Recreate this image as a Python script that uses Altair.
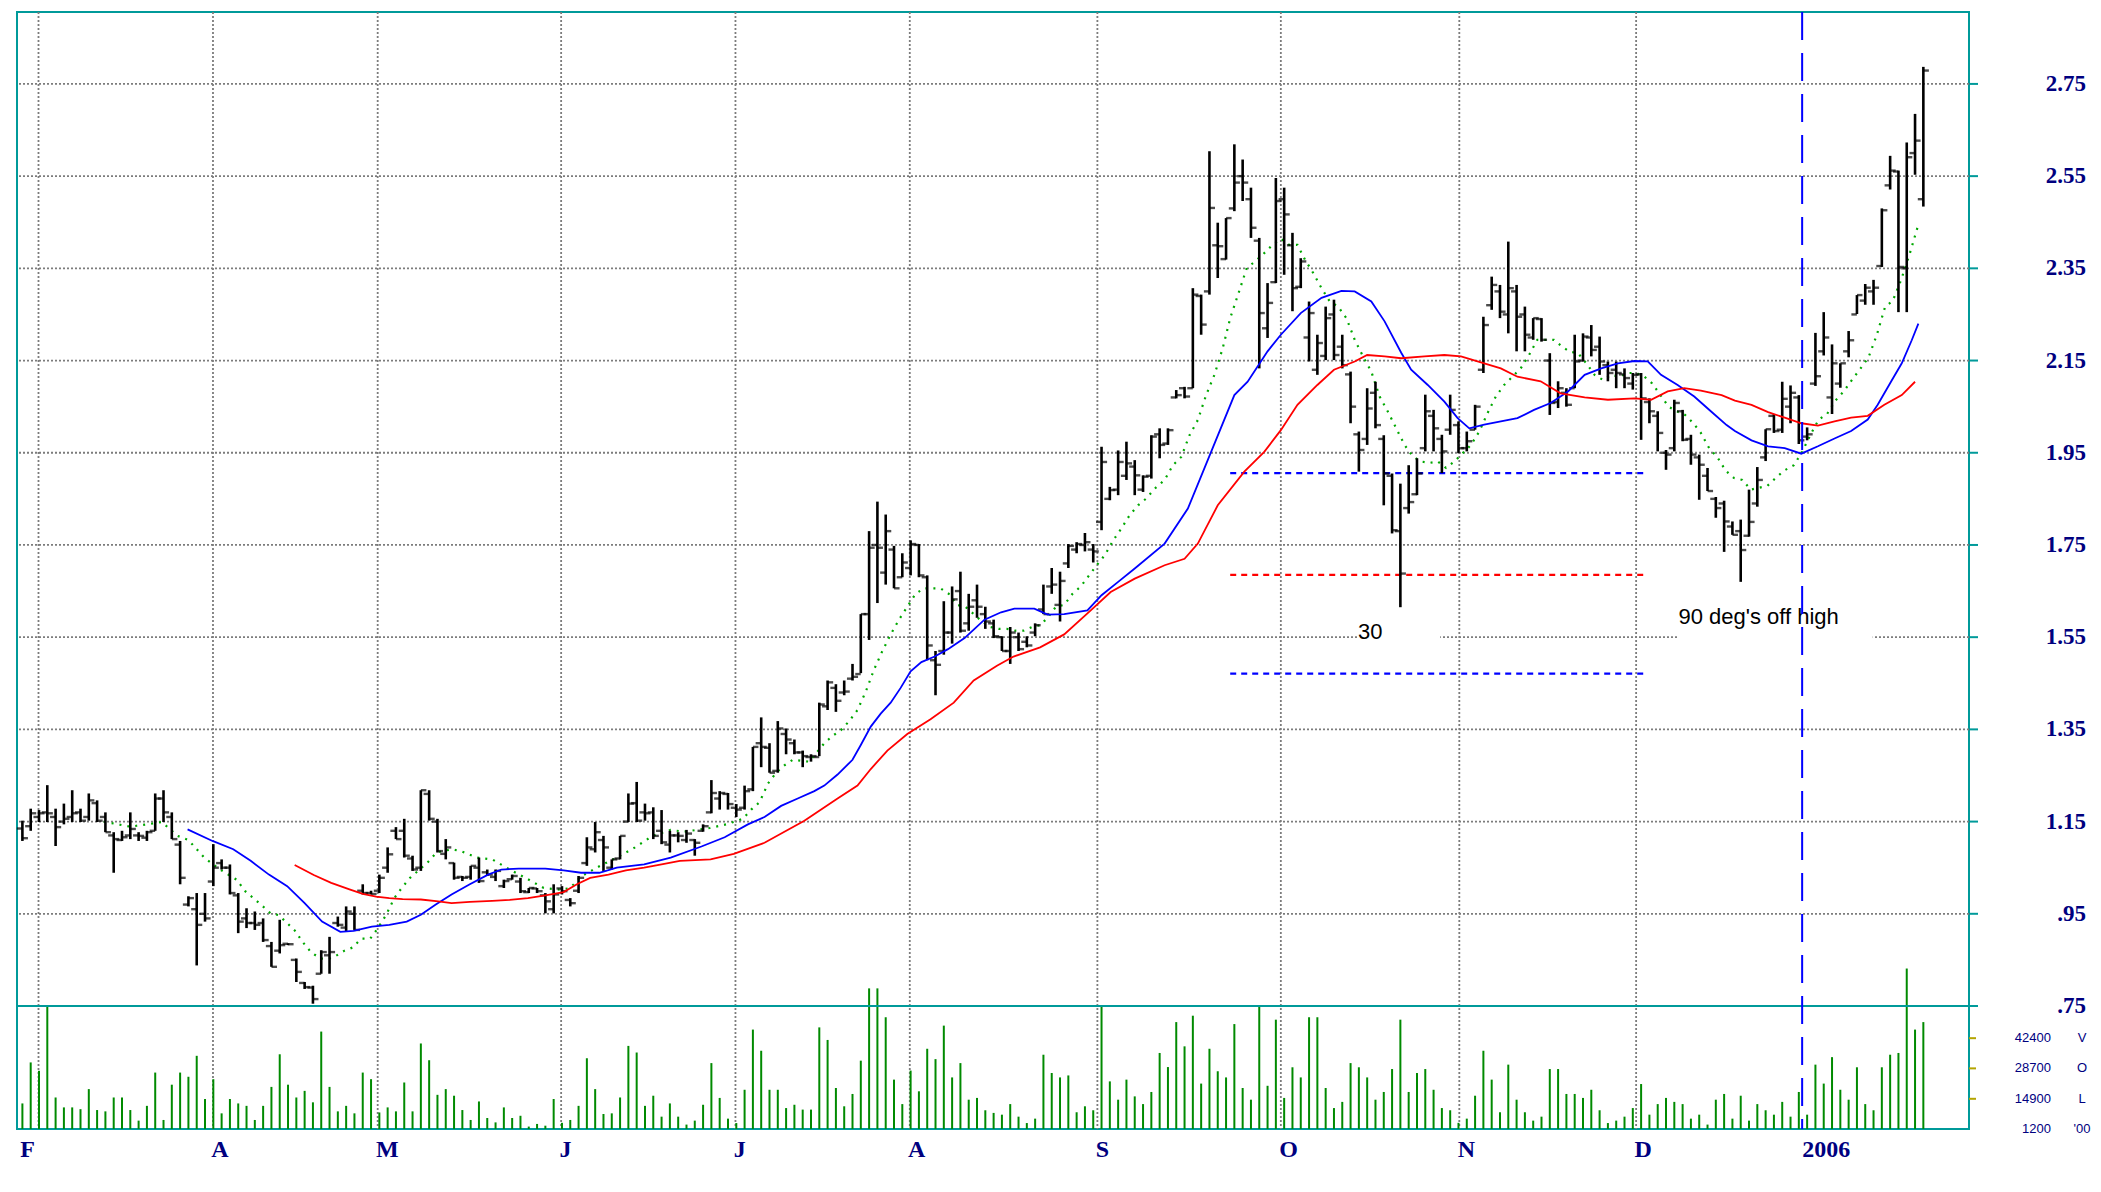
import altair as alt
import pandas as pd

# ---------------- data ----------------
bar_open = [
    1.135,1.14,1.16,1.17,1.16,1.15,1.16,1.17,1.16,1.19,
    1.16,1.12,1.11,1.12,1.12,1.115,1.13,1.20,1.16,1.10,
    0.97,0.96,0.95,1.02,1.06,1.05,0.99,0.94,0.93,0.93,
    0.88,0.87,0.885,0.85,0.80,0.79,0.82,0.86,0.93,0.92,
    0.95,1.00,0.995,1.00,1.05,1.13,1.13,1.07,1.05,1.21,
    1.15,1.08,1.06,1.03,1.03,1.05,1.04,1.03,1.01,1.025,
    1.02,0.997,1.005,0.99,0.96,1.005,0.98,1.00,1.06,1.09,
    1.11,1.05,1.07,1.15,1.19,1.17,1.17,1.13,1.10,1.12,
    1.11,1.11,1.13,1.17,1.20,1.21,1.18,1.18,1.22,1.32,
    1.31,1.26,1.34,1.32,1.30,1.29,1.29,1.40,1.44,1.43,
    1.46,1.47,1.60,1.75,1.69,1.74,1.68,1.70,1.75,1.68,
    1.50,1.52,1.56,1.65,1.58,1.63,1.60,1.58,1.55,1.52,
    1.55,1.54,1.56,1.61,1.66,1.62,1.71,1.74,1.75,1.74,
    1.80,1.85,1.87,1.90,1.92,1.87,1.90,1.99,1.97,2.07,
    2.09,2.09,2.29,2.30,2.40,2.37,2.48,2.55,2.50,2.41,
    2.22,2.32,2.50,2.40,2.31,2.20,2.13,2.16,2.25,2.18,
    2.12,1.99,1.98,2.08,1.98,1.90,1.78,1.83,1.86,1.96,
    2.03,1.98,2.00,2.01,1.96,2.00,2.13,2.27,2.30,2.25,
    2.30,2.25,2.20,2.24,2.15,2.06,2.08,2.09,2.15,2.20,
    2.18,2.14,2.13,2.12,2.10,2.12,2.06,2.03,1.95,1.96,
    2.04,1.98,1.94,1.90,1.85,1.84,1.79,1.78,1.77,1.84,
    1.94,2.03,2.00,2.05,2.07,1.985,2.10,2.17,2.07,2.10,
    2.17,2.25,2.28,2.30,2.355,2.53,2.56,2.35,2.60,2.50,
]
bar_high = [
    1.152,1.178,1.175,1.229,1.178,1.189,1.218,1.178,1.211,1.196,
    1.170,1.127,1.130,1.170,1.127,1.130,1.211,1.218,1.170,1.108,
    0.988,0.995,0.995,1.101,1.068,1.057,0.995,0.962,0.955,0.940,
    0.889,0.937,0.886,0.853,0.802,0.794,0.871,0.900,0.944,0.966,
    0.966,1.014,1.000,1.035,1.094,1.138,1.156,1.076,1.218,1.218,
    1.156,1.112,1.061,1.032,1.054,1.072,1.046,1.046,1.024,1.035,
    1.028,1.006,1.006,0.995,1.014,1.010,0.984,1.032,1.116,1.149,
    1.119,1.068,1.119,1.211,1.236,1.189,1.181,1.175,1.130,1.127,
    1.132,1.112,1.144,1.240,1.216,1.212,1.188,1.228,1.312,1.376,
    1.320,1.368,1.352,1.328,1.304,1.296,1.408,1.456,1.448,1.456,
    1.492,1.600,1.780,1.844,1.816,1.748,1.732,1.760,1.752,1.684,
    1.520,1.628,1.660,1.692,1.644,1.664,1.616,1.588,1.552,1.572,
    1.560,1.552,1.580,1.664,1.700,1.692,1.752,1.756,1.776,1.752,
    1.963,1.876,1.955,1.974,1.934,1.901,1.988,2.003,2.003,2.086,
    2.093,2.307,2.293,2.604,2.449,2.459,2.619,2.586,2.525,2.416,
    2.318,2.546,2.525,2.427,2.372,2.278,2.206,2.267,2.282,2.206,
    2.126,1.996,2.090,2.104,1.988,1.905,1.883,1.923,1.938,2.076,
    2.043,1.989,2.076,2.018,1.996,2.054,2.245,2.332,2.314,2.408,
    2.314,2.267,2.242,2.242,2.166,2.105,2.090,2.206,2.209,2.227,
    2.202,2.148,2.148,2.133,2.123,2.123,2.068,2.040,1.956,2.065,
    2.043,1.989,1.946,1.917,1.854,1.846,1.801,1.805,1.870,1.919,
    2.001,2.034,2.104,2.096,2.075,2.005,2.210,2.255,2.185,2.144,
    2.214,2.292,2.316,2.325,2.480,2.594,2.562,2.623,2.685,2.787,
]
bar_low = [
    1.108,1.130,1.149,1.149,1.097,1.144,1.149,1.149,1.152,1.149,
    1.127,1.039,1.108,1.112,1.108,1.108,1.130,1.149,1.112,1.014,
    0.966,0.838,0.933,1.010,1.046,0.992,0.908,0.919,0.915,0.889,
    0.835,0.864,0.882,0.802,0.787,0.755,0.820,0.820,0.922,0.911,
    0.915,0.992,0.992,0.995,1.039,1.112,1.072,1.043,1.043,1.152,
    1.083,1.068,1.024,1.021,1.024,1.017,1.032,1.021,1.006,1.024,
    0.995,0.995,0.995,0.951,0.951,0.992,0.966,0.995,1.054,1.083,
    1.043,1.046,1.068,1.149,1.149,1.152,1.112,1.101,1.083,1.105,
    1.104,1.076,1.128,1.168,1.176,1.176,1.160,1.176,1.216,1.268,
    1.256,1.256,1.296,1.296,1.268,1.280,1.292,1.392,1.388,1.424,
    1.456,1.472,1.544,1.624,1.664,1.656,1.680,1.684,1.680,1.500,
    1.424,1.512,1.536,1.560,1.564,1.592,1.568,1.548,1.520,1.492,
    1.520,1.528,1.552,1.600,1.644,1.584,1.700,1.732,1.736,1.712,
    1.782,1.847,1.858,1.891,1.858,1.865,1.894,1.938,1.967,2.068,
    2.068,2.090,2.206,2.293,2.329,2.369,2.474,2.496,2.416,2.133,
    2.199,2.318,2.336,2.257,2.307,2.148,2.119,2.151,2.151,2.133,
    2.014,1.909,1.967,2.003,1.836,1.775,1.615,1.818,1.858,1.953,
    1.953,1.906,1.989,1.949,1.953,2.000,2.123,2.260,2.242,2.209,
    2.170,2.170,2.195,2.191,2.032,2.047,2.050,2.090,2.148,2.159,
    2.119,2.105,2.090,2.090,2.087,1.978,2.014,1.953,1.913,1.953,
    1.975,1.924,1.848,1.867,1.809,1.735,1.772,1.670,1.768,1.833,
    1.932,1.993,1.993,2.014,1.969,1.977,2.095,2.161,2.034,2.091,
    2.157,2.251,2.271,2.271,2.353,2.521,2.255,2.255,2.553,2.484,
]
bar_close = [
    1.114,1.168,1.168,1.168,1.138,1.156,1.168,1.152,1.196,1.152,
    1.127,1.112,1.116,1.134,1.119,1.127,1.200,1.170,1.112,1.028,
    0.984,0.926,0.940,1.050,1.050,0.995,0.933,0.930,0.926,0.893,
    0.835,0.882,0.884,0.824,0.791,0.765,0.867,0.867,0.926,0.955,
    0.915,0.995,0.993,1.028,1.079,1.112,1.076,1.046,1.218,1.156,
    1.086,1.094,1.028,1.028,1.054,1.021,1.035,1.043,1.021,1.032,
    0.999,1.006,0.999,0.977,0.992,0.999,0.973,1.028,1.094,1.127,
    1.094,1.068,1.119,1.189,1.152,1.168,1.119,1.105,1.120,1.119,
    1.124,1.104,1.140,1.212,1.212,1.188,1.176,1.216,1.312,1.312,
    1.256,1.352,1.328,1.300,1.292,1.292,1.404,1.452,1.412,1.432,
    1.464,1.600,1.744,1.744,1.780,1.656,1.712,1.752,1.684,1.532,
    1.490,1.560,1.632,1.564,1.616,1.616,1.584,1.552,1.520,1.560,
    1.524,1.532,1.576,1.600,1.664,1.672,1.748,1.752,1.756,1.736,
    1.930,1.869,1.930,1.927,1.901,1.898,1.985,1.967,1.999,2.075,
    2.072,2.293,2.228,2.481,2.398,2.459,2.536,2.536,2.438,2.253,
    2.275,2.496,2.467,2.307,2.365,2.253,2.188,2.242,2.162,2.140,
    2.050,1.956,2.046,2.010,1.905,1.782,1.688,1.843,1.905,2.040,
    2.003,1.953,2.043,1.960,1.975,2.050,2.227,2.314,2.256,2.307,
    2.245,2.206,2.242,2.195,2.058,2.090,2.054,2.148,2.202,2.173,
    2.148,2.123,2.123,2.112,2.119,2.068,2.040,1.993,1.946,2.058,
    1.978,1.946,1.924,1.867,1.830,1.801,1.772,1.739,1.800,1.891,
    2.001,1.997,2.067,2.080,1.977,1.990,2.116,2.200,2.144,2.144,
    2.194,2.292,2.308,2.308,2.476,2.562,2.353,2.591,2.627,2.779,
]
volume = [
    12800,31400,27600,57000,15500,11000,11000,10200,19300,9800,
    9200,15500,15500,9800,5000,11700,26800,5300,21300,26800,
    24900,34400,14800,23800,8300,14800,12800,11700,5300,11700,
    20300,35100,21300,15500,18500,13300,45400,20300,9200,11700,
    8300,26800,23800,8700,11000,9200,22300,9200,40000,32400,
    16700,19300,16300,9800,5300,13700,6200,4200,11000,6200,
    7200,2300,3500,2700,14800,4000,5300,11700,33300,19300,
    8000,8300,15500,38900,35900,11700,16300,6800,12800,6800,
    3200,5000,12200,31100,15300,5900,3900,19000,46300,36700,
    19000,19000,10700,12200,10000,10000,47300,41600,19800,11500,
    17100,32200,65000,65000,51900,23600,12500,27700,18300,37600,
    32900,48100,24600,31100,14500,15300,9700,8500,7700,12500,
    6800,3900,5900,34900,26600,24600,25500,8800,11500,9700,
    57000,22800,14500,23600,16000,12500,18000,35700,29300,49700,
    38700,52600,21800,37600,27400,24600,48800,19800,14500,57000,
    20800,50800,15300,29200,24600,51900,51900,19800,10700,13500,
    31100,29200,24600,14500,18000,28400,50800,18000,26600,28400,
    19000,10700,9700,4000,5900,16300,36700,23600,8800,30400,
    14500,8800,5000,6800,28400,28400,17100,17100,15300,19000,
    9700,3900,5000,6800,10700,21600,7700,12500,15300,13500,
    12500,5900,7700,3200,14500,17100,5900,16300,5000,12500,
    9700,7700,13500,6800,18000,7700,30400,21800,33800,19000,
    14500,29200,12500,9700,29200,34900,35700,74000,46300,49700,
]

# moving averages: (bar position, price)
blue_n = [20.9,23.9,26.4,28.5,30.7,32.9,35.0,37.1,39.3,40.9,43.1,45.2,47.3,49.0,50.8,52.7,54.9,57.1,58.7,60.8,
          64.0,66.2,68.3,70.5,72.6,75.9,79.1,82.8,85.6,88.4,90.4,92.4,94.4,96.4,97.6,99.2,101.0,102.0,103.2,104.4,
          105.6,106.8,108.0,109.3,110.9,112.5,114.5,115.7,116.9,118.9,120.5,122.9,124.5,126.5,129.3,131.0,133.0,135.0,138.6,141.4,
          144.2,147.0,148.6,151.0,152.6,155.0,157.5,159.9,161.5,163.5,165.1,167.1,168.3,170.3,172.3,173.9,175.3,177.1,179.1,181.1,
          183.1,185.1,187.2,189.2,191.2,193.2,195.2,196.8,198.4,200.4,202.4,204.4,206.3,207.3,209.3,211.3,213.3,215.3,217.3,219.3,
          221.3,223.3,224.5,226.1,227.4,228.6,229.4]
blue_p = [1.133,1.108,1.090,1.065,1.035,1.010,0.973,0.933,0.911,0.913,0.922,0.926,0.933,0.948,0.970,0.992,1.014,1.035,1.046,1.048,
          1.048,1.044,1.039,1.039,1.050,1.057,1.072,1.096,1.116,1.144,1.160,1.184,1.200,1.216,1.228,1.252,1.284,1.316,1.356,1.384,
          1.408,1.440,1.476,1.496,1.508,1.524,1.548,1.568,1.588,1.604,1.612,1.612,1.599,1.600,1.608,1.641,1.670,1.699,1.753,1.829,
          1.952,2.075,2.104,2.170,2.206,2.253,2.286,2.301,2.300,2.278,2.235,2.167,2.130,2.097,2.061,2.025,2.003,2.011,2.018,2.025,
          2.043,2.058,2.083,2.119,2.133,2.144,2.149,2.148,2.119,2.097,2.072,2.040,2.010,1.997,1.977,1.964,1.960,1.948,1.964,1.981,
          1.997,2.022,2.054,2.104,2.144,2.194,2.230]

red_n = [33.8,36.1,38.2,40.4,42.0,43.6,45.2,46.8,49.0,51.1,52.7,54.9,57.6,59.7,61.9,64.0,66.2,67.8,69.4,71.6,
         73.7,75.9,78.0,80.2,83.9,86.7,90.4,95.2,99.2,101.6,103.2,105.2,107.6,110.4,113.2,115.6,118.4,120.4,123.6,126.5,
         129.7,132.1,135.0,138.6,141.0,142.6,145.0,148.2,150.6,152.6,154.6,157.0,159.0,161.5,163.0,165.1,167.1,169.9,172.3,174.3,
         176.3,179.1,181.1,183.9,186.3,189.2,192.0,195.2,197.2,199.2,201.2,203.2,205.7,207.3,209.3,211.3,213.3,215.3,217.3,219.3,
         221.3,223.3,225.3,227.4,229.0]
red_p = [1.056,1.034,1.017,1.003,0.993,0.987,0.984,0.982,0.981,0.977,0.973,0.976,0.978,0.980,0.984,0.990,0.997,1.014,1.028,1.035,
         1.044,1.050,1.057,1.065,1.068,1.080,1.104,1.152,1.200,1.228,1.264,1.304,1.340,1.372,1.408,1.456,1.488,1.508,1.528,1.556,
         1.608,1.648,1.677,1.706,1.720,1.753,1.836,1.909,1.952,1.999,2.054,2.097,2.130,2.148,2.162,2.159,2.155,2.159,2.162,2.159,
         2.148,2.133,2.115,2.105,2.079,2.070,2.065,2.068,2.065,2.083,2.090,2.085,2.075,2.063,2.054,2.038,2.026,2.014,2.009,2.018,
         2.026,2.030,2.054,2.075,2.104]

green_n = [10.8,14.0,16.4,17.8,19.7,21.0,22.9,24.8,26.8,27.9,29.8,30.9,31.9,33.8,34.8,35.8,36.9,37.9,38.8,39.8,
           40.8,41.8,42.9,43.8,44.8,45.8,46.7,47.7,49.8,50.9,52.7,53.8,55.7,57.6,59.7,61.6,62.7,63.8,65.9,67.0,
           68.3,70.5,72.6,74.8,76.9,79.1,80.7,83.8,85.8,87.8,88.8,89.8,90.8,91.8,92.8,93.8,95.8,97.6,98.6,99.6,
           100.6,101.6,102.6,103.6,104.6,105.6,106.6,107.6,108.6,109.6,110.6,111.6,112.6,113.6,114.6,115.6,116.6,117.6,118.6,119.6,
           120.6,121.6,122.6,123.6,124.5,125.5,126.5,127.5,128.5,129.5,130.5,131.4,132.4,133.4,134.4,135.4,136.4,137.4,138.6,139.6,
           140.6,141.6,142.6,143.6,144.6,145.6,146.5,147.5,148.5,149.5,150.6,151.6,152.6,153.6,154.6,155.5,156.5,157.5,158.5,159.5,
           160.5,161.5,162.5,163.5,164.5,165.5,166.5,167.5,168.5,169.5,170.5,171.5,172.5,173.5,174.5,175.5,176.5,177.5,178.5,179.5,
           180.5,181.5,182.5,183.5,184.5,185.5,186.5,187.4,188.4,189.4,190.4,191.4,192.4,193.4,194.4,195.4,196.4,197.3,198.3,199.3,
           200.3,201.3,202.3,203.2,204.2,205.2,206.2,207.2,208.2,209.2,210.2,211.2,212.2,213.2,214.4,215.4,216.4,217.4,218.4,219.4,
           220.4,221.4,222.4,223.4,224.4,225.4,226.3,227.3,228.3,229.3]
green_p = [1.150,1.139,1.145,1.149,1.119,1.110,1.072,1.046,1.024,0.998,0.969,0.951,0.947,0.914,0.888,0.866,0.853,0.852,0.859,0.870,
           0.877,0.896,0.896,0.918,0.947,0.984,1.006,1.028,1.061,1.083,1.090,1.086,1.072,1.068,1.046,1.028,1.017,1.006,1.002,1.006,
           1.031,1.053,1.072,1.094,1.119,1.132,1.128,1.136,1.144,1.156,1.176,1.192,1.232,1.256,1.272,1.284,1.280,1.320,1.336,1.348,
           1.368,1.392,1.432,1.480,1.520,1.556,1.588,1.616,1.644,1.656,1.656,1.656,1.644,1.620,1.616,1.600,1.584,1.572,1.568,1.568,
           1.564,1.564,1.572,1.576,1.592,1.616,1.620,1.644,1.660,1.684,1.708,1.728,1.760,1.786,1.815,1.836,1.851,1.872,1.891,1.923,
           1.941,1.988,2.021,2.075,2.119,2.177,2.242,2.296,2.351,2.365,2.383,2.401,2.414,2.401,2.401,2.369,2.340,2.307,2.278,2.267,
           2.242,2.195,2.159,2.126,2.072,2.039,2.003,1.967,1.942,1.931,1.928,1.931,1.917,1.931,1.949,1.967,1.996,2.036,2.072,2.097,
           2.115,2.133,2.162,2.195,2.195,2.195,2.180,2.169,2.166,2.144,2.119,2.108,2.119,2.115,2.123,2.123,2.115,2.101,2.076,2.050,
           2.040,2.032,2.014,1.993,1.960,1.940,1.911,1.895,1.891,1.870,1.874,1.878,1.895,1.911,1.923,1.952,1.989,2.022,2.034,2.063,
           2.083,2.108,2.132,2.157,2.206,2.267,2.279,2.324,2.378,2.439]

price_ticks = [0.75, 0.95, 1.15, 1.35, 1.55, 1.75, 1.95, 2.15, 2.35, 2.55, 2.75]
price_tick_labels = [".75", ".95", "1.15", "1.35", "1.55", "1.75", "1.95", "2.15", "2.35", "2.55", "2.75"]
grid_levels = [0.95, 1.15, 1.35, 1.55, 1.75, 1.95, 2.15, 2.35, 2.55, 2.75]
panel_split = [0.75]
vol_ticks = [14900, 28700, 42400]
vol_label_values = [42400, 28700, 14900, 1200]
vol_label_text = ["42400", "28700", "14900", "1200"]
vol_unit_text = ["V", "O", "L", "'00"]

month_grid = [2.94, 23.96, 43.8, 65.9, 86.9, 107.9, 130.5, 152.6, 174.1, 195.4]
month_labels = ["F", "A", "M", "J", "J", "A", "S", "O", "N", "D", "2006"]
month_label_at = [0.75, 23.76, 43.6, 65.7, 86.7, 107.7, 130.3, 152.4, 173.9, 195.2, 215.4]
year_line = [215.4]

ref_start, ref_end = 146.5, 196.3
ref_blue_levels = [1.906, 1.471]
ref_red_levels = [1.685]

note_text = ["30", "90 deg's off high"]
note_n = [161.9, 200.5]
note_p = [1.561, 1.594]
note_box_end = [171.8, 223.9]

# ---------------- chart ----------------
W = 1952          # plot width
HP = 994          # price panel height
H = 1117          # price + volume panels
TEAL = "#009a9a"
NAVY = "#00007f"
GRID = "#7c7c7c"

xs = alt.Scale(domain=[0.35, 235.5], nice=False, zero=False)
ys = alt.Scale(domain=[0.75, 2.906], range=[HP, 0], nice=False, zero=False)
vs = alt.Scale(domain=[1200, 57000], range=[H, HP], nice=False, zero=False)


def X(f):
    return alt.X(f, type="quantitative", scale=xs, axis=None)


def Y(f):
    return alt.Y(f, type="quantitative", scale=ys, axis=None)


def YV(f):
    return alt.Y(f, type="quantitative", scale=vs, axis=None)


bars = pd.DataFrame({
    "n": list(range(1, len(bar_close) + 1)),
    "open": bar_open, "high": bar_high, "low": bar_low, "close": bar_close,
    "vol": volume,
})
base = alt.Chart(bars)

# grid
hgrid = alt.Chart(pd.DataFrame({"p": grid_levels})).mark_rule(
    color=GRID, strokeDash=[2, 2], strokeWidth=1.8
).encode(y=Y("p"))
vgrid = alt.Chart(pd.DataFrame({"g": month_grid})).mark_rule(
    color=GRID, strokeDash=[2, 2], strokeWidth=1.8
).encode(x=X("g"))
split = alt.Chart(pd.DataFrame({"p": panel_split})).mark_rule(
    color=TEAL, strokeWidth=2
).encode(y=Y("p"))

# volume bars
vol = base.mark_rule(color="#008a00", strokeWidth=2).encode(
    x=X("n"), y=YV("vol"), y2=alt.datum(1200)
)

# price scale ticks / labels
ptick_df = pd.DataFrame({"p": price_ticks, "t": price_tick_labels})
p_ticks = alt.Chart(ptick_df).mark_rule(color=TEAL, strokeWidth=2).encode(
    x=alt.value(W), x2=alt.value(W + 9), y=Y("p"))
p_labels = alt.Chart(ptick_df).mark_text(
    align="right", baseline="middle", font="Liberation Serif", fontWeight="bold",
    fontSize=23, color=NAVY
).encode(x=alt.value(W + 117), y=Y("p"), text="t:N")

# volume scale ticks / labels
v_ticks = alt.Chart(pd.DataFrame({"v": vol_ticks})).mark_rule(color="#b4a400", strokeWidth=2).encode(
    x=alt.value(W), x2=alt.value(W + 7), y=YV("v"))
vlab = pd.DataFrame({"v": vol_label_values, "t": vol_label_text, "u": vol_unit_text})
vlab_num = alt.Chart(vlab).mark_text(
    align="right", baseline="middle", font="Liberation Sans", fontSize=13, color=NAVY
).encode(y=YV("v"), x=alt.value(W + 82), text="t:N")
vlab_unit = alt.Chart(vlab).mark_text(
    align="center", baseline="middle", font="Liberation Sans", fontSize=13, color=NAVY
).encode(y=YV("v"), x=alt.value(W + 113), text="u:N")

# annotations
notes = pd.DataFrame({"t": note_text, "n": note_n, "p": note_p, "e": note_box_end})
note_box = alt.Chart(notes).mark_rect(color="white").encode(
    x=X("n"), x2="e", y=Y("lo"), y2="hi:Q"
).transform_calculate(lo="1.538", hi="1.562")
note_txt = alt.Chart(notes).mark_text(
    align="left", baseline="middle", font="Liberation Sans", fontSize=22, color="black"
).encode(x=X("n"), y=Y("p"), text="t:N")

ref_b = alt.Chart(pd.DataFrame({"p": ref_blue_levels, "a": ref_start, "b": ref_end})).mark_rule(
    color="#0000ff", strokeDash=[6, 5], strokeWidth=2.2
).encode(x=X("a"), x2="b", y=Y("p"))
ref_r = alt.Chart(pd.DataFrame({"p": ref_red_levels, "a": ref_start, "b": ref_end})).mark_rule(
    color="#ff0000", strokeDash=[6, 5], strokeWidth=2.2
).encode(x=X("a"), x2="b", y=Y("p"))

# moving averages
green = alt.Chart(pd.DataFrame({"n": green_n, "p": green_p})).mark_line(
    color="#00a800", strokeDash=[2, 6], strokeWidth=2.2
).encode(x=X("n"), y=Y("p"), order="n:Q")
blue = alt.Chart(pd.DataFrame({"n": blue_n, "p": blue_p})).mark_line(
    color="#0000ff", strokeWidth=1.8
).encode(x=X("n"), y=Y("p"), order="n:Q")
red = alt.Chart(pd.DataFrame({"n": red_n, "p": red_p})).mark_line(
    color="#ff0000", strokeWidth=1.8
).encode(x=X("n"), y=Y("p"), order="n:Q")

# OHLC bars
hl = base.mark_rule(color="black", strokeWidth=2.6).encode(x=X("n"), y=Y("low"), y2="high")
op = base.mark_tick(orient="horizontal", color="black", size=5.5, thickness=2.4, xOffset=-2.8).encode(
    x=X("n"), y=Y("open"))
cl = base.mark_tick(orient="horizontal", color="black", size=5.5, thickness=2.4, xOffset=2.8).encode(
    x=X("n"), y=Y("close"))

# year divider
yline = alt.Chart(pd.DataFrame({"n": year_line})).mark_rule(
    color="#0000ff", strokeDash=[28, 13], strokeWidth=2
).encode(x=X("n"))

# month labels under the volume panel
months = pd.DataFrame({"m": month_labels, "pos": month_label_at})
mlab = alt.Chart(months).mark_text(
    align="left", baseline="alphabetic", font="Liberation Serif", fontWeight="bold",
    fontSize=24, color=NAVY
).encode(x=X("pos"), y=alt.value(H + 28), text="m:N")

chart = alt.layer(
    hgrid, vgrid, ref_b, ref_r, green, hl, op, cl, blue, red, note_box, note_txt,
    vol, split, yline, p_ticks, p_labels, v_ticks, vlab_num, vlab_unit, mlab
).resolve_scale(y="independent").properties(
    width=W, height=H,
    padding={"left": 8, "top": 3, "right": 0, "bottom": 4},
    background="white",
).configure_view(stroke=TEAL, strokeWidth=2)

chart.save("out.html", embed_options={"renderer": "svg", "actions": False})
